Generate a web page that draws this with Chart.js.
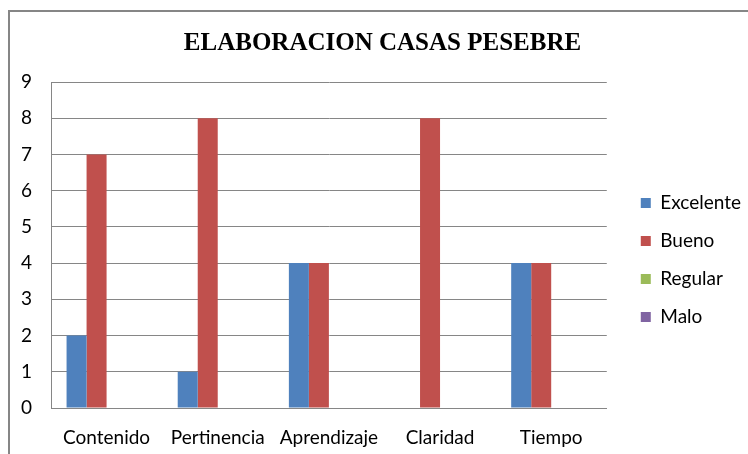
<!DOCTYPE html>
<html><head><meta charset="utf-8">
<script src="https://cdn.jsdelivr.net/npm/chart.js@4/dist/chart.umd.min.js"></script>
<style>html,body{margin:0;padding:0;background:#fff}#w{width:748px;height:454px;position:relative}</style>
</head><body><div id="w"><canvas id="c" width="748" height="454"></canvas></div>
<script>
const categories = ["Contenido", "Pertinencia", "Aprendizaje", "Claridad", "Tiempo"];
const excelente = [2, 1, 4, 0, 4];
const bueno = [7, 8, 4, 8, 4];
const regular = [0, 0, 0, 0, 0];
const malo = [0, 0, 0, 0, 0];
const seriesNames = ["Excelente", "Bueno", "Regular", "Malo"];
const yTicks = [0,1,2,3,4,5,6,7,8,9];

const frame = {
  id: 'frame',
  beforeDraw(chart) {
    const ctx = chart.ctx;
    ctx.save();
    ctx.strokeStyle = '#868686';
    ctx.lineWidth = 2;
    ctx.beginPath();
    ctx.moveTo(9, 460); ctx.lineTo(9, 11); ctx.lineTo(760, 11);
    ctx.stroke();
    ctx.restore();
  }
};

// nudge the legend and title blocks to sit where the original ones are
const blockNudge = {
  id: 'blockNudge',
  afterLayout(chart) {
    const l = chart.legend;
    if (l) { l.left += 15; l.right += 15; l.top += 24; l.bottom += 24; }
    const t = chart.titleBlock;
    if (t) { t.left += 29; }
  }
};

const txtFont = {family: 'Lato, "Open Sans", Calibri, sans-serif', size: 19};

new Chart(document.getElementById('c'), {
  type: 'bar',
  data: {
    labels: categories,
    datasets: [
      {label: seriesNames[0], data: excelente, backgroundColor: '#4F81BD'},
      {label: seriesNames[1], data: bueno, backgroundColor: '#C0504D'},
      {label: seriesNames[2], data: regular, backgroundColor: '#9BBB59'},
      {label: seriesNames[3], data: malo, backgroundColor: '#8064A2'}
    ]
  },
  options: {
    responsive: false,
    animation: false,
    devicePixelRatio: 1,
    datasets: {bar: {categoryPercentage: 0.72, barPercentage: 1}},
    layout: {padding: {left: 0, right: 12, top: 18, bottom: 0}},
    plugins: {
      title: {display: true, text: 'ELABORACION CASAS PESEBRE', color: '#000',
        font: {family: '"Liberation Serif", "Times New Roman", serif', size: 25, weight: 'bold'},
        padding: {top: 11, bottom: 23}},
      legend: {position: 'right', align: 'center',
        labels: {color: '#000', boxWidth: 10, boxHeight: 10, padding: 19, font: txtFont}},
      tooltip: {enabled: false}
    },
    scales: {
      x: {grid: {display: false, drawTicks: false}, border: {display: true, color: '#868686'},
        afterFit: (s) => { s.height = 46; },
        ticks: {color: '#000', padding: 18, font: txtFont}},
      y: {min: 0, max: 9, afterBuildTicks: (s) => { s.ticks = yTicks.map(v => ({value: v})); },
        afterFit: (s) => { s.width = 51; },
        grid: {color: '#868686', drawTicks: false}, border: {display: true, color: '#868686'},
        ticks: {color: '#000', padding: 19, font: txtFont}}
    }
  },
  plugins: [frame, blockNudge]
});
</script></body></html>
